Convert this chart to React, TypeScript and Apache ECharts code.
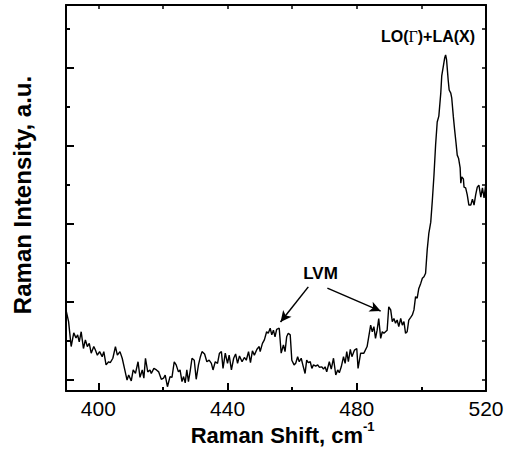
import React, { useEffect, useRef } from "react";
import * as echarts from "echarts";

// Raman shift (cm^-1) and intensity (a.u.) of the spectrum
const shift = [
  390.0, 390.8, 391.6, 392.4, 393.1, 393.6, 394.1, 394.7, 395.4, 396.0, 396.6, 397.2, 397.8, 398.6, 399.1, 399.7,
  400.4, 401.2, 401.7, 402.4, 403.2, 403.7, 404.5, 405.3, 405.9, 406.7, 407.4, 408.2, 408.9, 409.4, 410.2, 410.8,
  411.5, 412.3, 412.9, 413.6, 414.1, 414.6, 415.3, 416.0, 416.4, 417.2, 418.0, 418.7, 419.5, 420.2, 420.7, 421.4,
  422.2, 422.8, 423.5, 424.1, 424.8, 425.3, 425.9, 426.4, 426.9, 427.4, 427.9, 428.4, 429.0, 429.7, 430.3, 431.0,
  431.6, 432.1, 432.9, 433.6, 434.3, 435.0, 435.5, 436.2, 436.9, 437.5, 438.1, 438.6, 439.3, 440.0, 440.5, 441.2,
  441.9, 442.5, 443.1, 443.7, 444.5, 445.2, 445.8, 446.5, 447.1, 447.7, 448.3, 449.1, 449.8, 450.1, 450.8, 451.4,
  452.1, 452.6, 453.2, 453.7, 454.2, 454.7, 455.2, 456.0, 456.6, 457.3, 457.8, 458.3, 458.8, 459.4, 459.9, 460.6,
  461.1, 461.7, 462.2, 462.8, 463.3, 464.0, 464.5, 465.0, 465.6, 466.1, 466.6, 467.3, 467.9, 468.4, 469.2, 469.7,
  470.2, 470.7, 471.5, 472.1, 472.8, 473.5, 474.1, 474.6, 475.2, 475.9, 476.4, 476.9, 477.4, 478.0, 478.5, 479.3,
  480.0, 480.4, 481.2, 482.2, 483.2, 484.3, 484.8, 485.3, 485.8, 486.3, 486.8, 487.4, 487.9, 488.4, 488.9, 489.4,
  489.9, 490.5, 491.0, 491.5, 492.0, 492.5, 493.0, 493.6, 494.1, 494.6, 495.1, 495.6, 496.1, 496.7, 497.2, 497.7,
  498.2, 498.7, 499.2, 499.8, 500.3, 500.8, 501.3, 501.8, 502.3, 502.9, 503.4, 503.9, 504.4, 504.9, 505.4, 506.0,
  506.3, 506.8, 507.2, 507.5, 507.8, 508.0, 508.3, 508.6, 509.1, 509.4, 509.9, 510.3, 510.7, 511.1, 511.5, 512.0,
  512.2, 512.5, 513.0, 513.2, 513.7, 514.2, 514.7, 515.3, 515.8, 516.3, 516.8, 517.3, 517.8, 518.4, 518.9, 519.4,
  519.9, 520.0,
];

const intensity = [
  1.78, 1.48, 0.84, 1.19, 1.06, 1.14, 0.96, 1.22, 0.79, 1.01, 0.84, 0.92, 0.67, 0.84, 0.75, 0.62,
  0.71, 0.58, 0.71, 0.37, 0.45, 0.43, 0.54, 0.84, 0.62, 0.71, 0.54, 0.24, -0.02, 0.11, -0.04, 0.24,
  0.15, 0.45, 0.05, 0.24, 0.03, 0.54, 0.19, 0.24, 0.15, 0.28, 0.24, 0.19, 0.0, 0.03, 0.11, -0.19,
  0.07, 0.05, 0.45, 0.37, 0.19, 0.24, -0.06, 0.07, -0.09, 0.24, -0.06, 0.19, 0.54, 0.49, 0.0, 0.37,
  0.58, 0.71, 0.65, 0.45, 0.49, 0.41, 0.24, 0.45, 0.41, 0.67, 0.71, 0.28, 0.67, 0.41, 0.62, 0.24,
  0.54, 0.65, 0.41, 0.6, 0.45, 0.56, 0.49, 0.71, 0.43, 0.73, 0.62, 0.77, 0.84, 0.71, 0.92, 1.01,
  1.22, 1.18, 1.31, 1.14, 1.26, 1.09, 1.28, 1.31, 0.67, 0.88, 0.71, 1.09, 1.18, 1.14, 0.49, 0.37,
  0.41, 0.58, 0.45, 0.54, 0.37, 0.15, 0.49, 0.43, 0.45, 0.28, 0.37, 0.34, 0.37, 0.31, 0.32, 0.26,
  0.32, 0.19, 0.45, 0.26, 0.54, 0.11, 0.24, 0.17, 0.32, 0.58, 0.41, 0.71, 0.45, 0.77, 0.58, 0.75,
  0.79, 0.28, 0.67, 0.67, 0.84, 1.39, 1.22, 1.35, 1.05, 1.26, 1.56, 1.05, 1.22, 1.18, 1.22, 1.26,
  1.86, 1.78, 1.48, 1.56, 1.44, 1.52, 1.35, 1.56, 1.39, 1.48, 1.18, 1.22, 1.52, 1.59, 1.65, 1.78,
  2.12, 2.08, 2.33, 2.46, 2.59, 2.63, 2.72, 3.32, 3.74, 4.03, 4.6, 5.24, 6.01, 6.6, 6.75, 7.34,
  7.78, 8.03, 8.24, 8.32, 8.19, 7.98, 7.67, 7.42, 7.34, 7.21, 6.73, 6.39, 6.08, 5.75, 5.67, 5.42,
  5.03, 5.19, 5.14, 4.93, 4.91, 4.73, 4.47, 4.47, 4.62, 4.47, 4.73, 4.93, 4.98, 4.67, 4.91, 4.65,
  4.98, 5.03,
];

// Axis ranges and tick values
const xRange = [390, 520];
const yRange = [-0.3, 9.6];
const xMajorTicks = [400, 440, 480, 520];
const xMinorTicks = [420, 460, 500];
const xTopTicks = [400, 420, 440, 460, 480, 500];
const yMajorTicks = [0, 2, 4, 6, 8];
const yMinorTicks = [1, 3, 5, 7, 9];
const yRightTicks = [0, 1, 2, 3, 4, 5, 6, 7, 8, 9];

// LVM arrows: [start, end] in (shift, intensity)
const lvmArrows = [
  [[465.0, 2.37], [456.4, 1.47]],
  [[470.9, 2.34], [487.4, 1.75]],
];

const FONT = "'Liberation Sans', Arial, Helvetica, sans-serif";

export default function App() {
  const ref = useRef<HTMLDivElement>(null);

  useEffect(() => {
    if (!ref.current) return;
    const chart = echarts.init(ref.current, undefined, { renderer: "svg" });

    const line = { show: true, onZero: false, lineStyle: { color: "#000", width: 2 } };
    const noLine = { show: false, onZero: false };
    const base = { type: "value" as const, splitLine: { show: false }, gridIndex: 0 };

    const option: any = {
      animation: false,
      backgroundColor: "#fff",
      grid: { left: 66, right: 19, top: 5, bottom: 63, containLabel: false, outerBoundsMode: "none" },
      xAxis: [
        {
          ...base,
          min: xRange[0],
          max: xRange[1],
          position: "bottom",
          axisLine: line,
          axisTick: { show: true, inside: true, length: 8, customValues: xMajorTicks, lineStyle: { color: "#000", width: 2 } },
          axisLabel: { show: true, customValues: xMajorTicks, margin: 7, fontSize: 21, color: "#000", fontFamily: FONT },
        },
        {
          ...base,
          min: xRange[0],
          max: xRange[1],
          position: "bottom",
          axisLine: noLine,
          axisTick: { show: true, inside: true, length: 4, customValues: xMinorTicks, lineStyle: { color: "#000", width: 2 } },
          axisLabel: { show: false },
        },
        {
          ...base,
          min: xRange[0],
          max: xRange[1],
          position: "top",
          axisLine: line,
          axisTick: { show: true, inside: true, length: 4, customValues: xTopTicks, lineStyle: { color: "#000", width: 1.5 } },
          axisLabel: { show: false },
        },
      ],
      yAxis: [
        {
          ...base,
          min: yRange[0],
          max: yRange[1],
          position: "left",
          axisLine: line,
          axisTick: { show: true, inside: true, length: 8, customValues: yMajorTicks, lineStyle: { color: "#000", width: 2 } },
          axisLabel: { show: false },
        },
        {
          ...base,
          min: yRange[0],
          max: yRange[1],
          position: "left",
          axisLine: noLine,
          axisTick: { show: true, inside: true, length: 4, customValues: yMinorTicks, lineStyle: { color: "#000", width: 2 } },
          axisLabel: { show: false },
        },
        {
          ...base,
          min: yRange[0],
          max: yRange[1],
          position: "right",
          axisLine: line,
          axisTick: { show: true, inside: true, length: 4, customValues: yRightTicks, lineStyle: { color: "#000", width: 1.5 } },
          axisLabel: { show: false },
        },
      ],
      series: [
        {
          type: "line",
          xAxisIndex: 0,
          yAxisIndex: 0,
          data: shift.map((x, i) => [x, intensity[i]]),
          showSymbol: false,
          symbol: "none",
          lineStyle: { color: "#000", width: 1.4 },
          silent: true,
          markLine: {
            silent: true,
            symbol: ["none", "arrow"],
            symbolSize: [8, 11],
            label: { show: false },
            lineStyle: { color: "#000", width: 1.5, type: "solid" },
            emphasis: { disabled: true },
            data: lvmArrows.map(([a, b]) => [
              { coord: a, symbol: "none" },
              { coord: b, symbol: "arrow" },
            ]),
          },
        },
      ],
      graphic: [
        {
          type: "text",
          x: 22,
          y: 195,
          rotation: Math.PI / 2,
          style: {
            text: "Raman Intensity, a.u.",
            fill: "#000",
            fontSize: 24,
            fontWeight: "bold",
            fontFamily: FONT,
            align: "center",
            verticalAlign: "middle",
          },
        },
        {
          type: "text",
          x: 190.7,
          y: 435.5,
          style: {
            text: "Raman Shift, cm",
            fill: "#000",
            fontSize: 22,
            fontWeight: "bold",
            fontFamily: FONT,
            align: "left",
            verticalAlign: "middle",
          },
        },
        {
          type: "text",
          x: 363,
          y: 426,
          style: {
            text: "-1",
            fill: "#000",
            fontSize: 13,
            fontWeight: "bold",
            fontFamily: FONT,
            align: "left",
            verticalAlign: "middle",
          },
        },
        {
          type: "text",
          x: 320.5,
          y: 273.5,
          style: {
            text: "LVM",
            fill: "#000",
            fontSize: 17,
            fontWeight: "bold",
            fontFamily: FONT,
            align: "center",
            verticalAlign: "middle",
          },
        },
        {
          type: "text",
          x: 428,
          y: 36,
          style: {
            text: "{a|LO(}{g|Γ}{a|)+LA(X)}",
            align: "center",
            verticalAlign: "middle",
            rich: {
              a: { fontSize: 16, fontWeight: "bold", fontFamily: FONT, fill: "#000", color: "#000" },
              g: { fontSize: 16, fontFamily: "'Liberation Serif', 'DejaVu Serif', serif", fill: "#000", color: "#000" },
            },
          },
        },
      ],
    };

    chart.setOption(option);
    return () => chart.dispose();
  }, []);

  return (
    <div
      ref={ref}
      style={{ position: "fixed", left: 0, top: 0, width: 505, height: 454, background: "#fff" }}
    />
  );
}
